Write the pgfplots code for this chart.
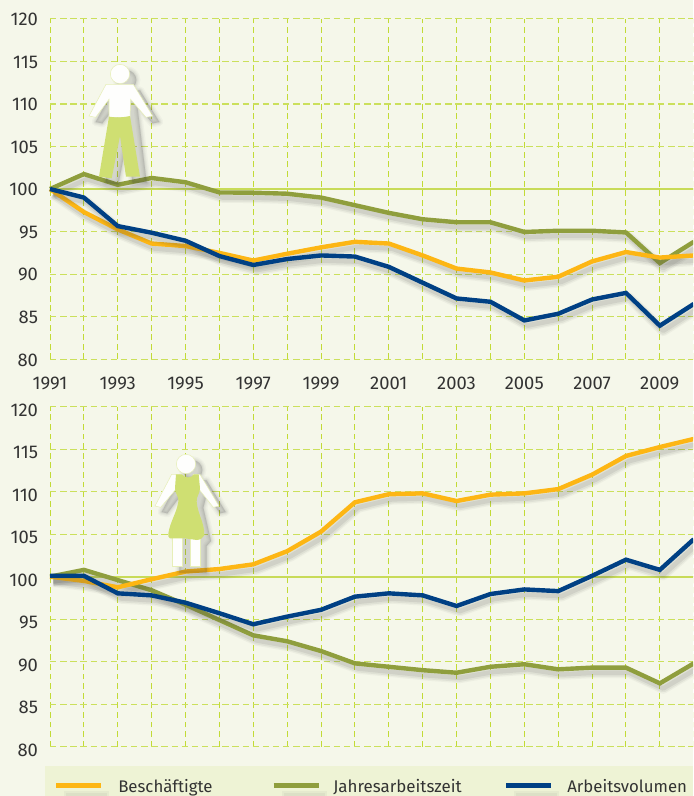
\documentclass[border=0pt]{standalone}
\usepackage{pgfplots}
\usepackage{pgfplotstable}
\usepackage{fontspec}
\setmainfont{Fira Sans}
\pgfplotsset{compat=1.18}
\definecolor{bgc}{HTML}{F5F7EA}
\definecolor{legc}{HTML}{EEF3D5}
\definecolor{gridv}{HTML}{C2DB36}
\definecolor{gridh}{HTML}{CBE05C}
\definecolor{hund}{HTML}{C8DB58}
\definecolor{orc}{HTML}{FDB614}
\definecolor{grc}{HTML}{8F9E3D}
\definecolor{blc}{HTML}{004084}
\definecolor{figg}{HTML}{CFDF72}
\definecolor{txt}{HTML}{333333}
\pgfplotstableread{
year b j a
1991 100 100 100
1992 97.3 101.76 99.0
1993 95.26 100.5 95.65
1994 93.6 101.3 94.87
1995 93.3 100.8 93.93
1996 92.5 99.6 92.13
1997 91.6 99.57 91.08
1998 92.4 99.45 91.78
1999 93.15 99.0 92.2
2000 93.8 98.1 92.07
2001 93.6 97.2 90.86
2002 92.2 96.45 89.0
2003 90.66 96.1 87.15
2004 90.2 96.1 86.76
2005 89.26 94.96 84.57
2006 89.7 95.1 85.35
2007 91.5 95.1 87.03
2008 92.6 94.9 87.8
2009 91.95 91.3 83.95
2010 92.2 93.8 86.5
}\men
\pgfplotstableread{
year b j a
1991 100 100 100.1
1992 99.5 100.8 100.1
1993 98.75 99.6 98.04
1994 99.7 98.4 97.8
1995 100.6 96.7 96.94
1996 100.9 94.9 95.7
1997 101.45 93.1 94.4
1998 103.0 92.4 95.3
1999 105.3 91.25 96.1
2000 108.75 89.8 97.65
2001 109.7 89.4 98.04
2002 109.8 89.0 97.8
2003 108.9 88.7 96.55
2004 109.65 89.4 97.96
2005 109.8 89.7 98.5
2006 110.3 89.1 98.3
2007 112.0 89.3 100.1
2008 114.2 89.3 102
2009 115.25 87.45 100.8
2010 116.2 89.8 104.4
}\women
\pgfplotstableread{
year v
1991 100
2010 100
}\hundred
\newcommand\series[3]{%
  \addplot[forget plot,no markers,draw=black!70,opacity=.05,line width=8pt,xshift=2.5pt,yshift=-3.8pt,line join=round] table[x=year,y=#2]{#1};
  \addplot[forget plot,no markers,draw=black!70,opacity=.08,line width=6pt,xshift=2.5pt,yshift=-3.8pt,line join=round] table[x=year,y=#2]{#1};
  \addplot[forget plot,no markers,draw=black!70,opacity=.10,line width=3.5pt,xshift=2.5pt,yshift=-3.8pt,line join=round] table[x=year,y=#2]{#1};
  \addplot[no markers,draw=#3,line width=3.3pt,line join=miter,line cap=butt] table[x=year,y=#2]{#1};
}
\pgfplotsset{base/.style={
  scale only axis,width=482.8pt,
  xmin=1991,xmax=2010,ymin=80,ymax=120,
  axis line style={draw=none},
  major tick length=0pt,
  clip=false,
  hide obscured x ticks=false,hide obscured y ticks=false,
  xtick={1991,1992,...,2010},
  ytick={80,85,...,120},
  grid=major,
  x grid style={draw=gridv,line width=.7pt,dash pattern=on 4.4pt off 2.8pt},
  y grid style={draw=gridh,line width=.95pt,dash pattern=on 4.8pt off 2.8pt},
  tick label style={text=txt,font=\fontsize{13.8}{15}\selectfont,inner sep=0pt},
  /pgf/number format/assume math mode=true,
  /pgf/number format/1000 sep={},
}}
\newcommand\shad[1]{%
 \foreach \o/\s in {.035/6,.045/4,.05/2.4,.06/1}{
  \fill[black!75,opacity=\o,xshift=5pt,yshift=-4.5pt,draw=black!75,line width=\s pt,line join=round] #1;}}
\begin{document}
\begin{tikzpicture}
\useasboundingbox (0,0) rectangle (519.75pt,-597pt);
\clip (0,0) rectangle (519.75pt,-597pt);
\fill[bgc] (0,0) rectangle (519.75pt,-597pt);
% legend band
\fill[legc] (33.75pt,-574.5pt) rectangle (519.75pt,-597pt);
\begin{axis}[base,at={(37.5pt,-269.5pt)},anchor=south west,height=255.45pt,
  yticklabel style={anchor=east,xshift=-8.8pt,yshift=-.5pt},
  xticklabels={1991,,1993,,1995,,1997,,1999,,2001,,2003,,2005,,2007,,2009,},
  xticklabel style={anchor=center,yshift=-18.3pt}]
\addplot[forget plot,no markers,draw=hund,line width=1.7pt] table[x=year,y=v]{\hundred};
\series{\men}{j}{grc}
\series{\men}{b}{orc}
\series{\men}{a}{blc}
\end{axis}
\begin{axis}[base,at={(37.5pt,-560pt)},anchor=south west,height=255pt,
  yticklabel style={anchor=east,xshift=-8.8pt,yshift=-2.6pt},
  xticklabels={}]
\addplot[forget plot,no markers,draw=hund,line width=1.7pt] table[x=year,y=v]{\hundred};
\series{\women}{j}{grc}
\series{\women}{b}{orc}
\series{\women}{a}{blc}
\end{axis}
% figures and legend in reference pixels
\begin{scope}[x=.75pt,y=-.75pt]
% man
\begin{scope}[shift={(85,60)},x=.25pt,y=-.25pt]
\shad{(105,42) circle (29)}
\shad{(63,73)--(145,73)--(203,168)--(183,172)--(137,120)--(165,350)--(123,350)--(105,228)--(80,355)--(42,350)--(72,120)--(32,172)--(12,168)--cycle}
\fill[white!90!bgc,draw=figg!50!white,line width=.4pt] (105,42) circle (29);
\fill[white!90!bgc,draw=figg!50!white,line width=.4pt] (63,73)--(145,73)--(203,168)--(183,172)--(137,118)--(135,172)--(72,172)--(72,118)--(32,172)--(12,168)--cycle;
\fill[figg] (72,170) to[bend right=10] (135,168)--(165,350)--(123,350)--(105,228)--(80,355)--(42,350)--cycle;
\end{scope}
% woman
\begin{scope}[shift={(150,445)},x=.25pt,y=-.25pt]
\shad{(108,57) circle (29)}
\shad{(65,88)--(150,88)--(207,183)--(190,187)--(150,130)--(140,170)--(163,270)--(150,285)--(150,365)--(68,365)--(68,282)--(55,265)--(85,170)--(75,130)--(32,187)--(15,183)--cycle}
\fill[white!90!bgc,draw=figg!50!white,line width=.4pt] (108,57) circle (29);
\fill[white!90!bgc,draw=figg!50!white,line width=.4pt] (65,88)--(90,88)--(80,130)--(32,187)--(15,183)--cycle;
\fill[white!90!bgc,draw=figg!50!white,line width=.4pt] (150,88)--(130,88)--(145,130)--(190,187)--(207,183)--cycle;
\fill[white!90!bgc,draw=figg!50!white,line width=.4pt] (68,275)--(97,275)--(97,365)--(68,365)--cycle (120,275)--(150,275)--(150,365)--(120,365)--cycle;
\fill[figg] (78,88)--(96,88) to[bend right=60] (132,88)--(146,88)--(150,130) to[out=-90,in=95] (140,170) to[out=-85,in=90] (163,270) to[out=-120,in=0] (140,285)--(105,280)--(60,280) to[out=170,in=-100] (55,265) to[out=80,in=-100] (85,170) to[out=80,in=-90] (75,130)--cycle;
\end{scope}
\foreach \a/\bb/\c in {56/101/orc,273.5/319/grc,506/551/blc}{
  \fill[black!70,opacity=.05] (\a+8,791) rectangle (\bb+8,797);
  \fill[black!70,opacity=.06] (\a+10,793) rectangle (\bb+6,797);
  \draw[\c,line width=3.8pt] (\a,785.5)--(\bb,785.5);
}
\node[anchor=base west,inner sep=0pt,text=txt,font=\fontsize{12.6}{14}\selectfont] at (118,792) {Beschäftigte};
\node[anchor=base west,inner sep=0pt,text=txt,font=\fontsize{12.7}{14}\selectfont] at (333,792) {Jahresarbeitszeit};
\node[anchor=base west,inner sep=0pt,text=txt,font=\fontsize{12.6}{14}\selectfont] at (567,792) {Arbeitsvolumen};
\end{scope}
\end{tikzpicture}
\end{document}
